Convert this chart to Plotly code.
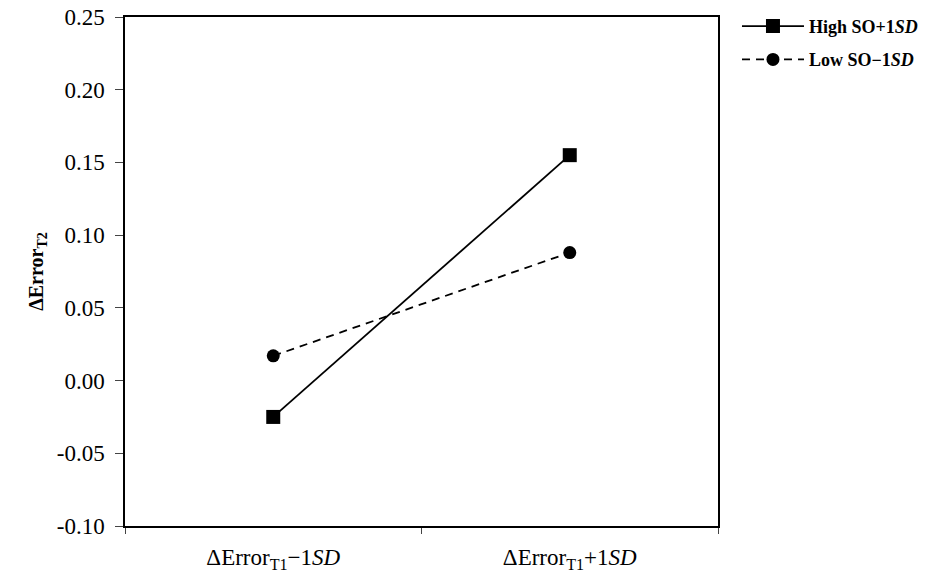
import plotly.graph_objects as go

x_pos = [0.25, 0.75]
x_labels = ["ΔError<sub>T1</sub>−1<i>SD</i>", "ΔError<sub>T1</sub>+1<i>SD</i>"]
high_so = [-0.025, 0.155]
low_so = [0.017, 0.088]
series_names = ["<b>High SO+1<i>SD</i></b>", "<b>Low SO−1<i>SD</i></b>"]
y_ticks = [-0.10, -0.05, 0.0, 0.05, 0.10, 0.15, 0.20, 0.25]
y_ticktext = ["-0.10", "-0.05", "0.00", "0.05", "0.10", "0.15", "0.20", "0.25"]

FONT = "Liberation Serif"

fig = go.Figure()
fig.add_trace(go.Scatter(
    x=x_pos, y=high_so, name=series_names[0], mode="lines+markers", legendgroup="a",
    line=dict(color="black", width=1.8, dash="solid"),
    marker=dict(symbol="square", size=14, color="black"),
))
fig.add_trace(go.Scatter(
    x=x_pos, y=low_so, name=series_names[1], mode="lines+markers", legendgroup="b",
    line=dict(color="black", width=1.8, dash="8px,6px"),
    marker=dict(symbol="circle", size=13, color="black"),
))
fig.add_trace(go.Scatter(x=x_pos, y=[None, None], xaxis="x2", showlegend=False, hoverinfo="skip"))

fig.update_layout(
    width=931, height=575,
    margin=dict(l=125, r=213, t=17, b=49, autoexpand=False),
    paper_bgcolor="white", plot_bgcolor="white",
    font=dict(family=FONT, color="black"),
    showlegend=True,
    legend=dict(x=1.032, y=1.018, xanchor="left", yanchor="top", traceorder="grouped",
                font=dict(family=FONT, size=18, color="black"),
                bgcolor="rgba(0,0,0,0)", tracegroupgap=7, itemwidth=62),
    xaxis=dict(range=[0, 1], tickvals=[0, 0.5, 1], showticklabels=False, automargin=False,
               ticks="outside", ticklen=6, tickcolor="#444", showgrid=False,
               zeroline=False, showline=True, linecolor="black", linewidth=1.5, mirror=True),
    xaxis2=dict(range=[0, 1], overlaying="x", side="bottom", tickvals=x_pos, automargin=False,
                ticktext=x_labels, ticks="", showgrid=False, zeroline=False, ticklabelstandoff=15,
                showline=False, tickfont=dict(family=FONT, size=23, color="black")),
    yaxis=dict(range=[-0.10, 0.25], tickvals=y_ticks, ticktext=y_ticktext, automargin=False,
               ticks="outside", ticklen=8, tickcolor="#444", ticklabelstandoff=6,
               ticklabeloverflow="allow",
               showgrid=False, zeroline=False, showline=True, linecolor="black",
               linewidth=1.5, mirror=True,
               tickfont=dict(family=FONT, size=23, color="black"),
               title=dict(text="<b>ΔError<sub>T2</sub></b>", font=dict(family=FONT, size=20, color="black"),
                          standoff=8)),
)

fig.write_html("out.html", post_script="document.body.style.margin='0';",
               config={"displayModeBar": False})
